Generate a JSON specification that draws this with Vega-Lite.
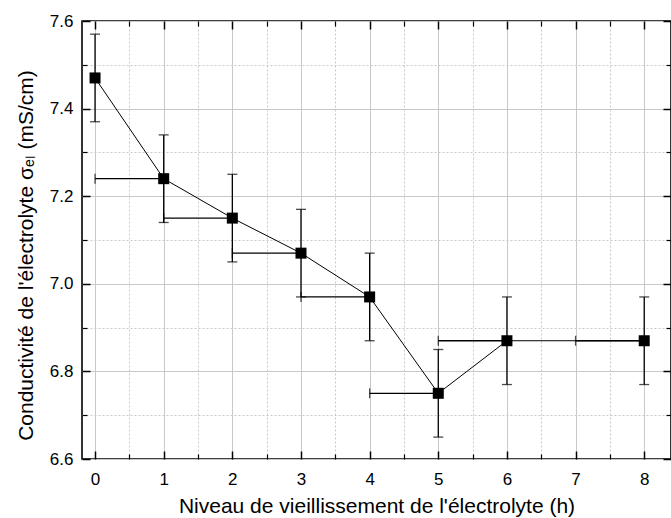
{
  "$schema": "https://vega.github.io/schema/vega-lite/v6.json",
  "width": 589,
  "height": 438,
  "autosize": "none",
  "padding": {"left": 82, "top": 21, "right": 0, "bottom": 59},
  "background": "white",
  "config": {
    "font": "Liberation Sans",
    "view": {"stroke": "black", "strokeWidth": 1.6},
    "axis": {
      "domain": false,
      "labelFont": "Liberation Sans",
      "titleFont": "Liberation Sans",
      "labelColor": "black",
      "titleColor": "black",
      "tickColor": "black",
      "gridColor": "#c8c8c8",
      "gridWidth": 1
    }
  },
  "data": {
    "values": [
      {"x": 0, "y": 7.47, "ylo": 7.37, "yhi": 7.57, "xlo": null},
      {"x": 1, "y": 7.24, "ylo": 7.14, "yhi": 7.34, "xlo": 0},
      {"x": 2, "y": 7.15, "ylo": 7.05, "yhi": 7.25, "xlo": 1},
      {"x": 3, "y": 7.07, "ylo": 6.97, "yhi": 7.17, "xlo": 2},
      {"x": 4, "y": 6.97, "ylo": 6.87, "yhi": 7.07, "xlo": 3},
      {"x": 5, "y": 6.75, "ylo": 6.65, "yhi": 6.85, "xlo": 4},
      {"x": 6, "y": 6.87, "ylo": 6.77, "yhi": 6.97, "xlo": 5},
      {"x": 8, "y": 6.87, "ylo": 6.77, "yhi": 6.97, "xlo": 7}
    ]
  },
  "resolve": {"axis": {"x": "independent", "y": "independent"}},
  "layer": [
    {
      "mark": {"type": "line", "color": "black", "strokeWidth": 1},
      "encoding": {
        "x": {"field": "x", "type": "quantitative", "scale": {"domain": [-0.19, 8.39], "nice": false, "zero": false},
          "axis": {"orient": "bottom", "values": [0,1,2,3,4,5,6,7,8], "grid": true, "labels": false, "ticks": true, "tickSize": -8, "tickWidth": 1.5, "title": null}},
        "y": {"field": "y", "type": "quantitative", "scale": {"domain": [6.6, 7.6], "nice": false, "zero": false},
          "axis": {"orient": "left", "values": [6.6,6.8,7.0,7.2,7.4,7.6], "grid": true, "labels": false, "ticks": true, "tickSize": -8, "tickWidth": 1.5, "title": null}}
      }
    },
    {
      "mark": {"type": "rule", "color": "black", "strokeWidth": 1.3},
      "encoding": {
        "x": {"field": "x", "type": "quantitative",
          "axis": {"orient": "bottom", "values": [0.5,1.5,2.5,3.5,4.5,5.5,6.5,7.5], "grid": true, "gridDash": [2, 2], "labels": false, "ticks": true, "tickSize": -5, "tickWidth": 1.2, "title": null}},
        "y": {"field": "ylo", "type": "quantitative",
          "axis": {"orient": "left", "values": [6.7,6.9,7.1,7.3,7.5], "grid": true, "gridDash": [2, 2], "labels": false, "ticks": true, "tickSize": -5, "tickWidth": 1.2, "title": null}},
        "y2": {"field": "yhi"}
      }
    },
    {
      "mark": {"type": "tick", "orient": "horizontal", "color": "black", "size": 10, "thickness": 1.3},
      "encoding": {
        "x": {"field": "x", "type": "quantitative",
          "axis": {"orient": "top", "values": [0,1,2,3,4,5,6,7,8], "grid": false, "labels": false, "ticks": true, "tickSize": -8, "tickWidth": 1.5, "title": null}},
        "y": {"field": "ylo", "type": "quantitative",
          "axis": {"orient": "right", "values": [6.6,6.8,7.0,7.2,7.4,7.6], "grid": false, "labels": false, "ticks": true, "tickSize": -8, "tickWidth": 1.5, "title": null}}
      }
    },
    {
      "mark": {"type": "tick", "orient": "horizontal", "color": "black", "size": 10, "thickness": 1.3},
      "encoding": {
        "x": {"field": "x", "type": "quantitative",
          "axis": {"orient": "top", "values": [0.5,1.5,2.5,3.5,4.5,5.5,6.5,7.5], "grid": false, "labels": false, "ticks": true, "tickSize": -5, "tickWidth": 1.2, "title": null}},
        "y": {"field": "yhi", "type": "quantitative",
          "axis": {"orient": "right", "values": [6.7,6.9,7.1,7.3,7.5], "grid": false, "labels": false, "ticks": true, "tickSize": -5, "tickWidth": 1.2, "title": null}}
      }
    },
    {
      "transform": [{"filter": "datum.xlo != null"}],
      "mark": {"type": "rule", "color": "black", "strokeWidth": 1.3},
      "encoding": {
        "x": {"field": "xlo", "type": "quantitative", "axis": null},
        "x2": {"field": "x"},
        "y": {"field": "y", "type": "quantitative", "axis": null}
      }
    },
    {
      "transform": [{"filter": "datum.xlo != null"}],
      "mark": {"type": "tick", "orient": "vertical", "color": "black", "size": 10, "thickness": 1.3},
      "encoding": {
        "x": {"field": "xlo", "type": "quantitative", "axis": null},
        "y": {"field": "y", "type": "quantitative", "axis": null}
      }
    },
    {
      "mark": {"type": "point", "shape": "square", "filled": true, "color": "black", "opacity": 1, "size": 121},
      "encoding": {
        "x": {"field": "x", "type": "quantitative",
          "axis": {"orient": "bottom", "values": [0,1,2,3,4,5,6,7,8], "grid": false, "ticks": false, "labelFontSize": 17, "labelPadding": 12,
            "title": "Niveau de vieillissement de l'électrolyte (h)", "titleFontSize": 21, "titleFontWeight": "normal", "titlePadding": 8}},
        "y": {"field": "y", "type": "quantitative",
          "axis": {"orient": "left", "values": [6.6,6.8,7.0,7.2,7.4,7.6], "format": ".1f", "grid": false, "ticks": false, "labelFontSize": 17, "labelPadding": 9,
            "title": "Conductivité de l'électrolyte σₑₗ (mS/cm)", "titleFontSize": 21, "titleFontWeight": "normal", "titlePadding": 13, "titleY": 234}}
      }
    }
  ]
}
